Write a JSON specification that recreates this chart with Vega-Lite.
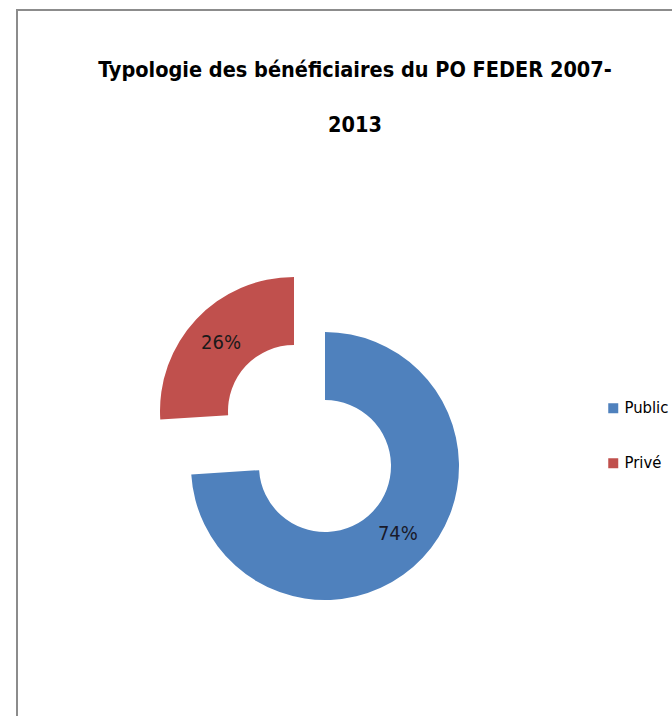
{
  "$schema": "https://vega.github.io/schema/vega-lite/v6.json",
  "width": 680,
  "height": 912,
  "autosize": {"type": "none"},
  "padding": {"left": 17, "top": 10, "right": 0, "bottom": 0},
  "background": "white",
  "view": {"stroke": "#8c8c8c", "strokeWidth": 2},
  "title": {
    "text": ["Typologie des bénéficiaires du PO FEDER 2007-", "2013"],
    "font": "DejaVu Sans Condensed",
    "fontSize": 21.5,
    "fontWeight": "bold",
    "color": "#000000",
    "anchor": "middle",
    "frame": "group",
    "dx": -2,
    "offset": -126,
    "baseline": "top",
    "lineHeight": 55
  },
  "data": {"values": [
    {"Type": "Public", "Part": 0.74},
    {"Type": "Privé", "Part": 0.26}
  ]},
  "encoding": {
    "theta": {"field": "Part", "type": "quantitative", "stack": true},
    "order": {"field": "Type", "sort": "descending"},
    "color": {
      "field": "Type",
      "type": "nominal",
      "scale": {"domain": ["Public", "Privé"], "range": ["#4F81BD", "#C0504D"]},
      "legend": {
        "title": null,
        "orient": "none",
        "legendX": 588,
        "legendY": 390,
        "symbolType": "square",
        "symbolSize": 100,
        "symbolStrokeWidth": 0,
        "labelFont": "DejaVu Sans Condensed",
        "labelFontSize": 16.5,
        "labelColor": "#000000",
        "labelOffset": 3,
        "rowPadding": 38
      }
    }
  },
  "layer": [
    {
      "mark": {"type": "arc", "innerRadius": 66, "outerRadius": 134, "xOffset": -32},
      "encoding": {"opacity": {"condition": {"test": "datum.Type === 'Public'", "value": 1}, "value": 0}}
    },
    {
      "mark": {"type": "arc", "innerRadius": 66, "outerRadius": 134, "xOffset": -63, "yOffset": -55},
      "encoding": {"opacity": {"condition": {"test": "datum.Type === 'Privé'", "value": 1}, "value": 0}}
    },
    {
      "mark": {"type": "text", "radius": 100, "xOffset": -32, "font": "DejaVu Sans Condensed", "fontSize": 20},
      "encoding": {
        "text": {"field": "Part", "type": "quantitative", "format": ".0%"},
        "color": {"value": "#1a1a2a"},
        "opacity": {"condition": {"test": "datum.Type === 'Public'", "value": 1}, "value": 0}
      }
    },
    {
      "mark": {"type": "text", "radius": 100, "xOffset": -63, "yOffset": -55, "font": "DejaVu Sans Condensed", "fontSize": 20},
      "encoding": {
        "text": {"field": "Part", "type": "quantitative", "format": ".0%"},
        "color": {"value": "#1a1a1a"},
        "opacity": {"condition": {"test": "datum.Type === 'Privé'", "value": 1}, "value": 0}
      }
    }
  ]
}
